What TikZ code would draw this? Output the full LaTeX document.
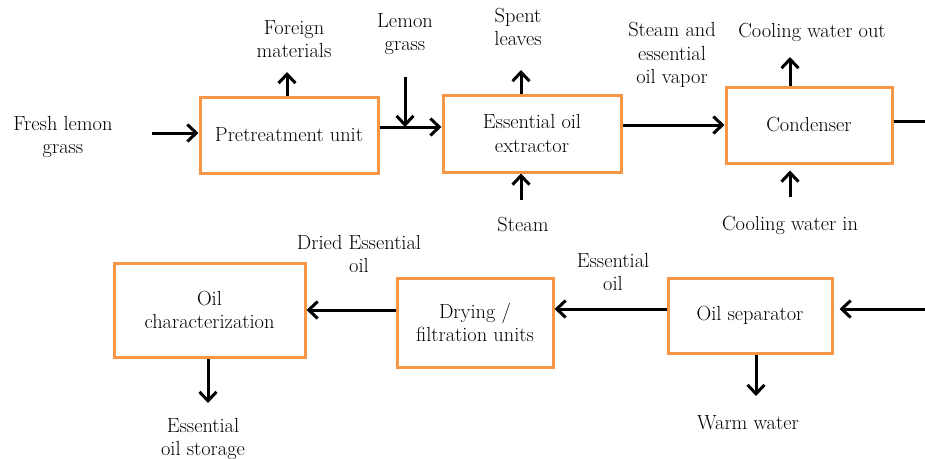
\documentclass[tikz,border=0pt]{standalone}
\usetikzlibrary{arrows.meta}
\definecolor{unitorange}{RGB}{247,150,70}

\begin{document}
\begin{tikzpicture}[x=1pt, y=-1pt,
    every node/.style={font=\rmfamily\fontsize{20.4}{23.5}\selectfont, align=center, inner sep=0pt},
    unit/.style={draw=unitorange, line width=3, rectangle},
    flow/.style={line width=3, -{Straight Barb[length=9pt, width=17pt]}},
    feed/.style={line width=3}]
  \useasboundingbox (0, 0) rectangle (925, 458);

  % process units
  \node [unit, minimum width=178, minimum height=76] (pre) at (289, 135) {Pretreatment unit};
  \node [unit, minimum width=178, minimum height=77] (ext) at (532, 133.5) {Essential oil\\extractor};
  \node [unit, minimum width=166, minimum height=76] (cond) at (809, 125) {Condenser};
  \node [unit, minimum width=191, minimum height=94] (char) at (209.5, 310) {Oil\\characterization};
  \node [unit, minimum width=156, minimum height=89] (dry) at (475, 322.5) {Drying /\\filtration units};
  \node [unit, minimum width=164, minimum height=75] (sep) at (750, 315.5) {Oil separator};

  % stream labels
  \node (fresh-t) at (63, 137) {Fresh lemon\\grass};
  \node (foreign-t) at (294, 39) {Foreign\\materials};
  \node (lemon-t) at (405, 34) {Lemon\\grass};
  \node (spent-t) at (518, 27) {Spent\\leaves};
  \node (vapor-t) at (672, 55) {Steam and\\essential\\oil vapor};
  \node (cwo-t) at (812, 32) {Cooling water out};
  \node (steam-t) at (523, 225) {Steam};
  \node (cwi-t) at (790, 225) {Cooling water in};
  \node (dried-t) at (359, 254) {Dried Essential\\oil};
  \node (eo-t) at (613, 272) {Essential\\oil};
  \node (warm-t) at (748, 423) {Warm water};
  \node (store-t) at (203, 439) {Essential\\oil storage};

  % free ends
  \coordinate (fresh) at (152, 133);
  \coordinate (foreign) at (287, 72);
  \coordinate (lemon) at (405, 77);
  \coordinate (join) at (405, 127);
  \coordinate (spent) at (521, 70);
  \coordinate (steam) at (521, 200);
  \coordinate (cwo) at (790, 57);
  \coordinate (cwi) at (790, 197);
  \coordinate (out) at (925, 121);
  \coordinate (back) at (925, 309);
  \coordinate (warm) at (756, 396);
  \coordinate (store) at (208, 403);

  % streams
  \draw [flow] (fresh) -- (fresh -| pre.west);
  \draw [flow] (pre.north -| foreign) -- (foreign);
  \draw [flow] (lemon) -- (join);
  \draw [flow] (pre.east |- join) -- (ext.west |- join);
  \draw [flow] (ext.north -| spent) -- (spent);
  \draw [flow] (steam) -- (steam |- ext.south);
  \draw [flow] (ext.east |- cond.west) -- (cond.west);
  \draw [flow] (cond.north -| cwo) -- (cwo);
  \draw [flow, shorten >=6pt] (cwi) -- (cwi |- cond.south);
  \draw [feed] (cond.east |- out) -- (out);
  \draw [flow, shorten >=6pt] (back) -- (back -| sep.east);
  \draw [flow] (sep.west |- back) -- (dry.east |- back);
  \draw [flow] (dry.west |- char.east) -- (char.east);
  \draw [flow] (char.south -| store) -- (store);
  \draw [flow] (sep.south -| warm) -- (warm);

\end{tikzpicture}
\end{document}
